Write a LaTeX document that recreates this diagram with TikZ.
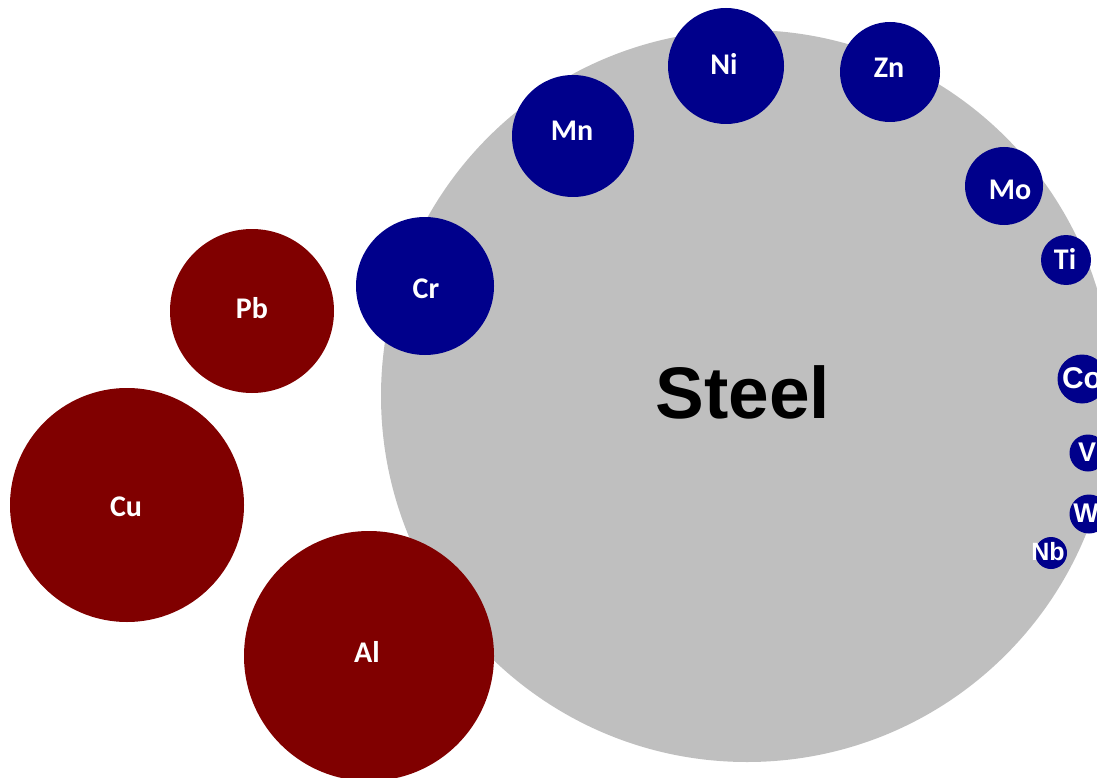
\documentclass[tikz,border=0pt]{standalone}
\usepackage{fontspec}
\newfontfamily\calib{Carlito}
\newfontfamily\arialf{Liberation Sans}
\definecolor{elblue}{RGB}{0,0,139}
\definecolor{elred}{RGB}{128,0,0}
\definecolor{steelgrey}{RGB}{191,191,191}
\begin{document}
\begin{tikzpicture}[x=1pt,y=-1pt,
  disc/.style={circle,inner sep=0pt,outer sep=0pt},
  bluedisc/.style={disc,fill=elblue},
  reddisc/.style={disc,fill=elred},
  lbl/.style={text=white,inner sep=0pt,font=\calib\bfseries\fontsize{30}{30}\selectfont},
  slbl/.style={text=white,inner sep=0pt,font=\arialf\bfseries\fontsize{#1}{#1}\selectfont}]
\useasboundingbox (0,0) rectangle (1097,778);
\clip (0,0) rectangle (1097,778);
\node[disc,fill=steelgrey,minimum size=732pt] (steel) at (747,396) {};
\node[font=\arialf\bfseries\fontsize{73}{73}\selectfont] (steeltxt) at (743,392) {Steel};
\node[bluedisc,minimum size=116pt] (ni) at (726,66) {};
\node[lbl] (nit) at (724,64) {Ni};
\node[bluedisc,minimum size=100pt] (zn) at (890,72) {};
\node[lbl] (znt) at (889,68) {Zn};
\node[bluedisc,minimum size=122pt] (mn) at (573,136) {};
\node[lbl] (mnt) at (572,131) {Mn};
\node[bluedisc,minimum size=78pt] (mo) at (1004,186) {};
\node[lbl] (mot) at (1010,190) {Mo};
\node[bluedisc,minimum size=50pt] (ti) at (1066,260) {};
\node[lbl] (tit) at (1065,259) {Ti};
\node[bluedisc,minimum size=138pt] (cr) at (425,286) {};
\node[lbl] (crt) at (426,289) {Cr};
\node[bluedisc,minimum size=49pt] (co) at (1082,379) {};
\node[slbl=30] (cot) at (1082,378) {Co};
\node[bluedisc,minimum size=37pt] (v) at (1088,453) {};
\node[slbl=27] (vt) at (1087,452) {V};
\node[bluedisc,minimum size=39pt] (w) at (1089,514) {};
\node[slbl=27] (wt) at (1086,513) {W};
\node[bluedisc,minimum size=32pt] (nb) at (1051,553) {};
\node[slbl=25] (nbt) at (1048,552) {Nb};
\node[reddisc,minimum size=164pt] (pb) at (252,311) {};
\node[lbl] (pbt) at (252,308) {Pb};
\node[reddisc,minimum size=234pt] (cu) at (127,505) {};
\node[lbl] (cut) at (126,507) {Cu};
\node[reddisc,minimum size=250pt] (al) at (369,656) {};
\node[lbl] (alt) at (367,652) {Al};
\end{tikzpicture}
\end{document}
